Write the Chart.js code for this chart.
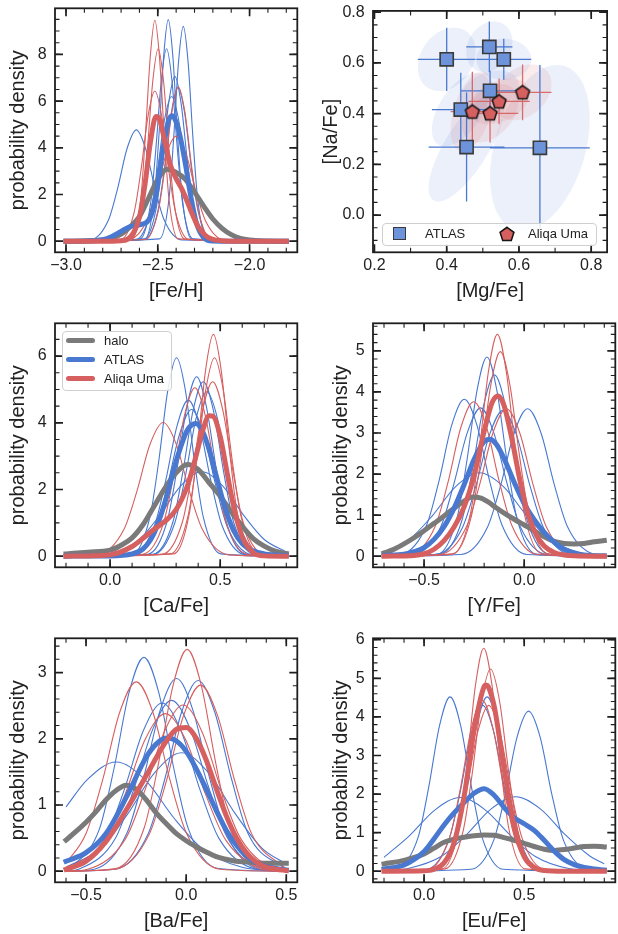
<!DOCTYPE html>
<html><head><meta charset="utf-8">
<script src="https://cdn.jsdelivr.net/npm/chart.js@4.4.1/dist/chart.umd.min.js"></script>
<style>
html,body{margin:0;padding:0;background:#fff;}
#wrap{position:relative;width:618px;height:934px;overflow:hidden;font-family:'Liberation Sans',Arial,Helvetica,sans-serif;color:#222;}
canvas{position:absolute;}
.lg{position:absolute;box-sizing:border-box;border:1px solid #cfcfcf;border-radius:4px;background:rgba(255,255,255,0.85);}
.lt{position:absolute;font-size:13px;line-height:13px;white-space:nowrap;color:#222;}
.ll{position:absolute;height:5px;border-radius:3px;}
</style></head><body>
<div id="wrap"></div>
<script>
// ---------------- DATA ----------------
// [Fe/H]
const FEH_HALO = [[-3.0,0],[-2.9,0.005],[-2.8,0.05],[-2.75,0.14],[-2.7,0.3],[-2.65,0.62],[-2.6,1.05],[-2.55,1.85],[-2.5,2.65],[-2.45,3.08],[-2.4,2.95],[-2.35,2.65],[-2.3,2.1],[-2.25,1.5],[-2.2,0.95],[-2.15,0.55],[-2.1,0.28],[-2.05,0.12],[-2.0,0.05],[-1.9,0.01],[-1.8,0]];
const FEH_ATLAS = [[-3.0,0],[-2.9,0.01],[-2.85,0.03],[-2.8,0.06],[-2.75,0.2],[-2.7,0.42],[-2.65,0.63],[-2.6,0.7],[-2.55,0.9],[-2.525,1.4],[-2.5,2.4],[-2.47,4.04],[-2.44,5.2],[-2.42,5.37],[-2.4,5.1],[-2.38,4.55],[-2.35,3.33],[-2.32,1.91],[-2.29,0.79],[-2.25,0.16],[-2.2,0.01],[-2.1,0],[-1.8,0]];
const FEH_ALIQA = [[-3.0,0],[-2.75,0],[-2.7,0.02],[-2.65,0.17],[-2.6,1.03],[-2.57,2.42],[-2.54,4.25],[-2.51,5.34],[-2.49,5.21],[-2.46,4.21],[-2.43,3.23],[-2.4,2.68],[-2.37,2.25],[-2.34,1.71],[-2.31,1.12],[-2.28,0.62],[-2.24,0.24],[-2.2,0.08],[-2.15,0.02],[-2.1,0],[-1.8,0]];
const FEH_ATLAS_STARS = [
 [[-3.0,0],[-2.868,0.05],[-2.767,0.94],[-2.717,2.32],[-2.667,3.98],[-2.617,4.77],[-2.567,3.98],[-2.517,2.32],[-2.467,0.94],[-2.366,0.05],[-1.8,0]],
 [[-3.0,0],[-2.569,0.10],[-2.519,1.88],[-2.493,4.62],[-2.468,7.92],[-2.443,9.49],[-2.418,7.92],[-2.393,4.62],[-2.367,1.88],[-2.317,0.10],[-1.8,0]],
 [[-3.0,0],[-2.491,0.10],[-2.439,1.82],[-2.413,4.48],[-2.387,7.68],[-2.361,9.2],[-2.335,7.68],[-2.309,4.48],[-2.283,1.82],[-2.231,0.10],[-1.8,0]],
 [[-3.0,0],[-2.597,0.09],[-2.539,1.63],[-2.510,4.01],[-2.481,6.88],[-2.452,8.24],[-2.423,6.88],[-2.394,4.01],[-2.365,1.63],[-2.307,0.09],[-1.8,0]],
 [[-3.0,0],[-2.577,0.08],[-2.509,1.40],[-2.475,3.44],[-2.441,5.90],[-2.407,7.06],[-2.373,5.90],[-2.339,3.44],[-2.305,1.40],[-2.237,0.08],[-1.8,0]],
 [[-3.0,0],[-2.618,0.07],[-2.541,1.23],[-2.502,3.02],[-2.464,5.18],[-2.425,6.2],[-2.386,5.18],[-2.348,3.02],[-2.309,1.23],[-2.232,0.07],[-1.8,0]],
 [[-3.0,0],[-2.571,0.07],[-2.499,1.31],[-2.462,3.21],[-2.426,5.51],[-2.39,6.6],[-2.354,5.51],[-2.318,3.21],[-2.281,1.31],[-2.209,0.07],[-1.8,0]]
];
const FEH_ALIQA_STARS = [
 [[-3.0,0],[-2.643,0.10],[-2.592,1.87],[-2.567,4.61],[-2.541,7.90],[-2.516,9.46],[-2.491,7.90],[-2.465,4.61],[-2.440,1.87],[-2.389,0.10],[-1.8,0]],
 [[-3.0,0],[-2.643,0.09],[-2.585,1.63],[-2.556,4.01],[-2.527,6.88],[-2.498,8.24],[-2.469,6.88],[-2.440,4.01],[-2.411,1.63],[-2.353,0.09],[-1.8,0]],
 [[-3.0,0],[-2.702,0.07],[-2.628,1.27],[-2.590,3.13],[-2.553,5.37],[-2.516,6.43],[-2.479,5.37],[-2.442,3.13],[-2.404,1.27],[-2.330,0.07],[-1.8,0]],
 [[-3.0,0],[-2.569,0.07],[-2.497,1.31],[-2.460,3.21],[-2.424,5.51],[-2.388,6.6],[-2.352,5.51],[-2.316,3.21],[-2.279,1.31],[-2.207,0.07],[-1.8,0]],
 [[-3.0,0],[-2.666,0.05],[-2.559,0.89],[-2.506,2.19],[-2.453,3.76],[-2.40,4.5],[-2.347,3.76],[-2.294,2.19],[-2.241,0.89],[-2.134,0.05],[-1.8,0]]
];
const FEH_XTICKS = [-3.0,-2.5,-2.0];
const FEH_YTICKS = [0,2,4,6,8];

// [Mg/Fe] vs [Na/Fe]
const ATLAS_MGFE = [0.400,0.518,0.558,0.520,0.439,0.455,0.658];
const ATLAS_NAFE = [0.614,0.663,0.614,0.490,0.416,0.268,0.265];
const ATLAS_MGFE_ERR = [0.080,0.064,0.076,0.079,0.080,0.105,0.138];
const ATLAS_NAFE_ERR = [0.125,0.100,0.081,0.080,0.145,0.215,0.327];
const ATLAS_RHO = [0.25,0.2,0.0,0.3,0.55,0.75,0.35];
const ALIQA_MGFE = [0.610,0.545,0.471,0.520];
const ALIQA_NAFE = [0.484,0.448,0.408,0.401];
const ALIQA_MGFE_ERR = [0.080,0.085,0.060,0.078];
const ALIQA_NAFE_ERR = [0.110,0.090,0.157,0.115];
const ALIQA_RHO = [0.3,0.35,0.45,0.4];
const MG_XTICKS = [0.2,0.4,0.6,0.8];
const NA_YTICKS = [0.0,0.2,0.4,0.6,0.8];

// [Ca/Fe]
const CA_HALO = [[-0.2,0.07],[-0.1,0.12],[0,0.18],[0.05,0.33],[0.1,0.55],[0.15,0.95],[0.2,1.5],[0.25,2.05],[0.3,2.5],[0.35,2.75],[0.4,2.6],[0.45,2.2],[0.5,1.8],[0.55,1.33],[0.6,0.9],[0.65,0.53],[0.7,0.3],[0.75,0.15],[0.8,0.08]];
const CA_ATLAS = [[-0.2,0],[-0.1,0.01],[0,0.01],[0.1,0.07],[0.15,0.22],[0.2,0.69],[0.25,1.63],[0.3,2.85],[0.35,3.77],[0.39,3.98],[0.42,3.74],[0.45,3.19],[0.48,2.46],[0.52,1.49],[0.56,0.78],[0.6,0.38],[0.65,0.16],[0.7,0.07],[0.75,0.04],[0.8,0.02]];
const CA_ALIQA = [[-0.2,0],[-0.1,0.01],[0,0.04],[0.1,0.29],[0.15,0.54],[0.2,0.81],[0.25,1.05],[0.3,1.4],[0.35,2.09],[0.39,3.0],[0.42,3.76],[0.45,4.21],[0.47,4.18],[0.5,3.59],[0.53,2.55],[0.56,1.52],[0.6,0.58],[0.65,0.11],[0.7,0.01],[0.8,0]];
const CA_ATLAS_STARS = [
 [[-0.2,0],[0.101,0.07],[0.181,1.18],[0.222,2.90],[0.262,4.97],[0.302,5.95],[0.342,4.97],[0.382,2.90],[0.423,1.18],[0.503,0.07],[0.8,0]],
 [[-0.2,0],[0.171,0.06],[0.260,1.07],[0.304,2.62],[0.349,4.49],[0.393,5.38],[0.437,4.49],[0.482,2.62],[0.526,1.07],[0.615,0.06],[0.8,0]],
 [[-0.2,0],[0.194,0.06],[0.286,1.04],[0.331,2.55],[0.377,4.37],[0.423,5.23],[0.469,4.37],[0.515,2.55],[0.560,1.04],[0.652,0.06],[0.8,0]],
 [[-0.2,0],[0.099,0.05],[0.202,0.93],[0.253,2.28],[0.304,3.91],[0.355,4.68],[0.406,3.91],[0.457,2.28],[0.508,0.93],[0.611,0.05],[0.8,0]],
 [[-0.2,0],[0.005,0.09],[0.132,0.50],[0.226,1.23],[0.321,2.11],[0.416,2.53],[0.511,2.11],[0.606,1.23],[0.700,0.50],[0.8,0.13]],
 [[-0.2,0],[0.196,0.05],[0.293,0.98],[0.342,2.40],[0.390,4.12],[0.439,4.93],[0.488,4.12],[0.536,2.40],[0.585,0.98],[0.682,0.05],[0.8,0]],
 [[-0.2,0],[0.098,0.05],[0.207,0.87],[0.261,2.14],[0.316,3.67],[0.370,4.4],[0.424,3.67],[0.479,2.14],[0.533,0.87],[0.642,0.05],[0.8,0]]
];
const CA_ALIQA_STARS = [
 [[-0.2,0],[0.289,0.07],[0.361,1.32],[0.397,3.24],[0.433,5.55],[0.469,6.65],[0.505,5.55],[0.541,3.24],[0.577,1.32],[0.649,0.07],[0.8,0]],
 [[-0.2,0],[0.273,0.07],[0.353,1.18],[0.394,2.90],[0.434,4.97],[0.474,5.95],[0.514,4.97],[0.554,2.90],[0.595,1.18],[0.675,0.07],[0.8,0]],
 [[-0.2,0],[0.237,0.06],[0.329,1.04],[0.374,2.55],[0.420,4.37],[0.466,5.23],[0.512,4.37],[0.558,2.55],[0.603,1.04],[0.695,0.06],[0.8,0]],
 [[-0.2,0],[0.148,0.06],[0.243,1.0],[0.290,2.46],[0.338,4.22],[0.385,5.05],[0.432,4.22],[0.480,2.46],[0.527,1.0],[0.622,0.06],[0.8,0]],
 [[-0.2,0],[-0.058,0.04],[0.062,0.79],[0.122,1.95],[0.181,3.35],[0.241,4.01],[0.301,3.35],[0.360,1.95],[0.420,0.79],[0.540,0.04],[0.8,0]]
];
const CA_XTICKS = [0.0,0.5];
const CA_YTICKS = [0,2,4,6];

// [Y/Fe]
const Y_HALO = [[-0.7,0.08],[-0.65,0.17],[-0.6,0.3],[-0.55,0.45],[-0.5,0.62],[-0.45,0.8],[-0.4,0.98],[-0.35,1.17],[-0.3,1.34],[-0.26,1.44],[-0.22,1.42],[-0.18,1.32],[-0.14,1.18],[-0.1,1.05],[-0.05,0.9],[0,0.76],[0.05,0.62],[0.1,0.47],[0.15,0.36],[0.2,0.31],[0.25,0.3],[0.3,0.31],[0.35,0.35],[0.4,0.38]];
const Y_ATLAS = [[-0.7,0.02],[-0.6,0.05],[-0.55,0.11],[-0.5,0.21],[-0.45,0.41],[-0.4,0.72],[-0.35,1.17],[-0.3,1.74],[-0.25,2.36],[-0.2,2.79],[-0.17,2.85],[-0.14,2.73],[-0.1,2.37],[-0.05,1.8],[0,1.28],[0.05,0.89],[0.1,0.58],[0.15,0.34],[0.2,0.17],[0.25,0.08],[0.3,0.03],[0.4,0.01]];
const Y_ALIQA = [[-0.7,0],[-0.55,0.02],[-0.5,0.06],[-0.45,0.17],[-0.4,0.38],[-0.35,0.71],[-0.3,1.2],[-0.25,1.97],[-0.2,3.04],[-0.16,3.74],[-0.13,3.9],[-0.1,3.66],[-0.06,2.82],[-0.02,1.82],[0.02,1.02],[0.06,0.52],[0.1,0.25],[0.15,0.09],[0.2,0.03],[0.25,0.01],[0.4,0]];
const Y_ATLAS_STARS = [
 [[-0.7,0],[-0.612,0.04],[-0.487,0.76],[-0.424,1.86],[-0.362,3.19],[-0.299,3.82],[-0.236,3.19],[-0.174,1.86],[-0.111,0.76],[0.014,0.04],[0.4,0]],
 [[-0.7,0],[-0.433,0.05],[-0.334,0.96],[-0.285,2.36],[-0.235,4.05],[-0.186,4.85],[-0.137,4.05],[-0.087,2.36],[-0.038,0.96],[0.061,0.05],[0.4,0]],
 [[-0.7,0],[-0.420,0.05],[-0.311,0.87],[-0.257,2.15],[-0.202,3.68],[-0.148,4.41],[-0.094,3.68],[-0.039,2.15],[0.015,0.87],[0.124,0.05],[0.4,0]],
 [[-0.7,0],[-0.550,0.04],[-0.417,0.71],[-0.351,1.76],[-0.284,3.01],[-0.218,3.61],[-0.152,3.01],[-0.085,1.76],[-0.019,0.71],[0.114,0.04],[0.4,0]],
 [[-0.7,0],[-0.316,0.04],[-0.183,0.71],[-0.116,1.75],[-0.050,3.0],[0.017,3.59],[0.084,3.0],[0.150,1.75],[0.217,0.71],[0.350,0.04],[0.4,0.01]],
 [[-0.7,0.11],[-0.576,0.40],[-0.458,0.99],[-0.341,1.70],[-0.223,2.03],[-0.105,1.70],[0.012,0.99],[0.130,0.40],[0.287,0.07],[0.4,0.01]],
 [[-0.7,0],[-0.442,0.04],[-0.308,0.70],[-0.240,1.73],[-0.173,2.96],[-0.106,3.55],[-0.039,2.96],[0.028,1.73],[0.096,0.70],[0.230,0.04],[0.4,0]]
];
const Y_ALIQA_STARS = [
 [[-0.7,0],[-0.356,0.06],[-0.267,1.07],[-0.223,2.63],[-0.178,4.51],[-0.134,5.40],[-0.090,4.51],[-0.045,2.63],[-0.001,1.07],[0.088,0.06],[0.4,0]],
 [[-0.7,0],[-0.359,0.05],[-0.263,0.99],[-0.215,2.43],[-0.167,4.16],[-0.119,4.98],[-0.071,4.16],[-0.023,2.43],[0.025,0.99],[0.121,0.05],[0.4,0]],
 [[-0.7,0],[-0.570,0.04],[-0.443,0.74],[-0.379,1.83],[-0.316,3.14],[-0.252,3.76],[-0.188,3.14],[-0.125,1.83],[-0.061,0.74],[0.066,0.04],[0.4,0]],
 [[-0.7,0],[-0.422,0.04],[-0.289,0.71],[-0.222,1.75],[-0.156,3.0],[-0.089,3.59],[-0.022,3.0],[0.044,1.75],[0.111,0.71],[0.244,0.04],[0.4,0]]
];
const Y_XTICKS = [-0.5,0.0];
const Y_YTICKS = [0,1,2,3,4,5];

// [Ba/Fe]
const BA_HALO = [[-0.6,0.47],[-0.55,0.6],[-0.5,0.74],[-0.45,0.9],[-0.4,1.08],[-0.35,1.22],[-0.3,1.3],[-0.25,1.24],[-0.2,1.08],[-0.15,0.88],[-0.1,0.72],[-0.05,0.57],[0,0.46],[0.05,0.37],[0.1,0.29],[0.15,0.22],[0.2,0.18],[0.25,0.15],[0.3,0.14],[0.35,0.13],[0.4,0.12],[0.5,0.12]];
const BA_ATLAS = [[-0.6,0.15],[-0.5,0.28],[-0.4,0.57],[-0.3,1.11],[-0.2,1.72],[-0.15,1.92],[-0.1,2.01],[-0.05,1.97],[0,1.81],[0.05,1.55],[0.1,1.24],[0.15,0.92],[0.2,0.62],[0.25,0.4],[0.3,0.23],[0.35,0.13],[0.4,0.07],[0.45,0.04],[0.5,0.02]];
const BA_ALIQA = [[-0.6,0.03],[-0.5,0.15],[-0.4,0.45],[-0.3,0.92],[-0.2,1.44],[-0.15,1.71],[-0.1,1.96],[-0.05,2.14],[0,2.17],[0.05,2.01],[0.1,1.68],[0.15,1.25],[0.2,0.84],[0.25,0.51],[0.3,0.28],[0.35,0.14],[0.4,0.06],[0.45,0.03],[0.5,0.01]];
const BA_ATLAS_STARS = [
 [[-0.6,0],[-0.582,0.04],[-0.433,0.64],[-0.359,1.57],[-0.285,2.70],[-0.211,3.23],[-0.137,2.70],[-0.063,1.57],[0.011,0.64],[0.160,0.04],[0.5,0]],
 [[-0.6,0],[-0.459,0.03],[-0.295,0.58],[-0.212,1.42],[-0.130,2.43],[-0.048,2.91],[0.034,2.43],[0.116,1.42],[0.199,0.58],[0.363,0.03],[0.5,0]],
 [[-0.6,0],[-0.356,0.03],[-0.189,0.57],[-0.106,1.40],[-0.023,2.40],[0.060,2.88],[0.143,2.40],[0.226,1.40],[0.309,0.57],[0.5,0.02]],
 [[-0.6,0.02],[-0.403,0.50],[-0.308,1.24],[-0.214,2.12],[-0.120,2.54],[-0.026,2.12],[0.068,1.24],[0.163,0.50],[0.351,0.03],[0.5,0]],
 [[-0.6,0],[-0.537,0.03],[-0.351,0.51],[-0.259,1.26],[-0.166,2.15],[-0.073,2.58],[0.020,2.15],[0.113,1.26],[0.205,0.51],[0.391,0.03],[0.5,0]],
 [[-0.6,0.97],[-0.495,1.38],[-0.35,1.65],[-0.205,1.38],[-0.060,0.80],[0.085,0.33],[0.279,0.06],[0.5,0]],
 [[-0.6,0.06],[-0.424,0.35],[-0.291,0.87],[-0.157,1.49],[-0.023,1.79],[0.111,1.49],[0.245,0.87],[0.378,0.35],[0.5,0.11]]
];
const BA_ALIQA_STARS = [
 [[-0.6,0],[-0.352,0.04],[-0.209,0.66],[-0.138,1.63],[-0.066,2.80],[0.005,3.35],[0.076,2.80],[0.148,1.63],[0.219,0.66],[0.362,0.04],[0.5,0]],
 [[-0.6,0.12],[-0.5,0.57],[-0.416,1.39],[-0.333,2.39],[-0.249,2.86],[-0.165,2.39],[-0.082,1.39],[0.002,0.57],[0.170,0.03],[0.5,0]],
 [[-0.6,0],[-0.354,0.03],[-0.184,0.56],[-0.098,1.37],[-0.013,2.35],[0.072,2.81],[0.157,2.35],[0.242,1.37],[0.328,0.56],[0.5,0.03]],
 [[-0.6,0],[-0.492,0.03],[-0.301,0.50],[-0.206,1.22],[-0.110,2.10],[-0.015,2.51],[0.080,2.10],[0.176,1.22],[0.271,0.50],[0.462,0.03],[0.5,0.02]],
 [[-0.6,0.03],[-0.406,0.47],[-0.305,1.16],[-0.205,1.99],[-0.104,2.38],[-0.003,1.99],[0.097,1.16],[0.198,0.47],[0.399,0.03],[0.5,0]]
];
const BA_XTICKS = [-0.5,0.0,0.5];
const BA_YTICKS = [0,1,2,3];

// [Eu/Fe]
const EU_HALO = [[-0.2,0.19],[-0.1,0.28],[0,0.45],[0.05,0.6],[0.1,0.75],[0.15,0.83],[0.2,0.88],[0.25,0.92],[0.3,0.94],[0.35,0.93],[0.4,0.87],[0.45,0.8],[0.5,0.72],[0.55,0.64],[0.6,0.57],[0.65,0.54],[0.7,0.56],[0.75,0.6],[0.8,0.64],[0.85,0.65],[0.9,0.63]];
const EU_ATLAS = [[-0.2,0.06],[-0.1,0.16],[0,0.51],[0.05,0.84],[0.1,1.2],[0.15,1.51],[0.2,1.78],[0.25,2.02],[0.3,2.14],[0.35,1.97],[0.4,1.65],[0.45,1.39],[0.5,1.23],[0.55,1.06],[0.6,0.8],[0.65,0.52],[0.7,0.3],[0.75,0.17],[0.8,0.1],[0.85,0.06],[0.9,0.03]];
const EU_ALIQA = [[-0.2,0],[0,0.01],[0.05,0.05],[0.1,0.22],[0.15,0.74],[0.2,1.94],[0.25,3.66],[0.3,4.79],[0.31,4.83],[0.32,4.79],[0.35,4.28],[0.4,2.65],[0.45,1.17],[0.5,0.38],[0.55,0.1],[0.6,0.02],[0.7,0],[0.9,0]];
const EU_ATLAS_STARS = [
 [[-0.2,0],[-0.135,0.05],[-0.029,0.89],[0.024,2.20],[0.077,3.77],[0.130,4.52],[0.183,3.77],[0.236,2.20],[0.289,0.89],[0.395,0.05],[0.9,0]],
 [[-0.2,0],[0.234,0.05],[0.349,0.82],[0.407,2.02],[0.464,3.47],[0.522,4.15],[0.580,3.47],[0.637,2.02],[0.695,0.82],[0.810,0.05],[0.9,0]],
 [[-0.2,0],[0.015,0.05],[0.126,0.85],[0.182,2.09],[0.237,3.59],[0.293,4.30],[0.349,3.59],[0.404,2.09],[0.460,0.85],[0.571,0.05],[0.9,0]],
 [[-0.2,0.36],[-0.071,0.93],[0.055,1.59],[0.180,1.91],[0.305,1.59],[0.431,0.93],[0.556,0.38],[0.723,0.07],[0.9,0.01]],
 [[-0.2,0.01],[-0.080,0.07],[0.085,0.38],[0.210,0.94],[0.334,1.61],[0.458,1.93],[0.582,1.61],[0.706,0.94],[0.831,0.38],[0.9,0.19]],
 [[-0.2,0],[0.050,0.05],[0.156,0.89],[0.209,2.20],[0.262,3.77],[0.315,4.52],[0.368,3.77],[0.421,2.20],[0.474,0.89],[0.580,0.05],[0.9,0]]
];
const EU_ALIQA_STARS = [
 [[-0.2,0],[0.091,0.06],[0.174,1.14],[0.215,2.81],[0.257,4.83],[0.298,5.78],[0.339,4.83],[0.381,2.81],[0.422,1.14],[0.505,0.06],[0.9,0]],
 [[-0.2,0],[0.104,0.06],[0.195,1.04],[0.241,2.55],[0.286,4.38],[0.332,5.24],[0.378,4.38],[0.423,2.55],[0.469,1.04],[0.560,0.06],[0.9,0]],
 [[-0.2,0],[0.020,0.05],[0.128,0.88],[0.182,2.16],[0.236,3.70],[0.290,4.43],[0.344,3.70],[0.398,2.16],[0.452,0.88],[0.560,0.05],[0.9,0]],
 [[-0.2,0],[0.045,0.05],[0.156,0.85],[0.212,2.09],[0.267,3.59],[0.323,4.30],[0.379,3.59],[0.434,2.09],[0.490,0.85],[0.601,0.05],[0.9,0]]
];
const EU_XTICKS = [0.0,0.5];
const EU_YTICKS = [0,1,2,3,4,5,6];

// ---------------- STYLE / LAYOUT ----------------
const FONT = "'Liberation Sans', Arial, Helvetica, sans-serif";
const BLUE = '#4878d0', RED = '#d65f5f', GRAY = '#7a7a7a', INK = '#1e1e1e';
const COLS = {L:{left:0,width:305,fl:55,fr:297.3,ytp:6.5}, R:{left:310,width:308,fl:373,fr:615.3,ytp:19}};
const ROWS = [{top:0,height:315,ft:8.3,fb:252.3,xtp:11.3},{top:315,height:315,ft:323.3,fb:567.3,xtp:11.3},{top:630,height:304,ft:638.3,fb:882.3,xtp:0.3}];
const wrap = document.getElementById('wrap');

function steps(min, max, step){
  const out=[]; const k0=Math.ceil(min/step-1e-9), k1=Math.floor(max/step+1e-9);
  for(let k=k0;k<=k1;k++) out.push(+(k*step).toFixed(6));
  return out;
}
function fmt(v, dec){ const s=Math.abs(v).toFixed(dec); return (v < -1e-9 ? '\u2212' : '') + s; }

const frameTicks = {
  id:'frameTicks',
  afterDatasetsDraw(chart, args, o){
    const {ctx, chartArea:a} = chart; const xs=chart.scales.x, ys=chart.scales.y;
    ctx.save(); ctx.strokeStyle=INK; ctx.lineCap='butt';
    const seg=(vals, sc, horiz, len, lw)=>{
      ctx.lineWidth=lw; ctx.beginPath();
      vals.forEach(v=>{
        const p=sc.getPixelForValue(v);
        if(horiz){ if(p<a.left+1||p>a.right-1) return;
          ctx.moveTo(p,a.bottom); ctx.lineTo(p,a.bottom-len); ctx.moveTo(p,a.top); ctx.lineTo(p,a.top+len);
        } else { if(p<a.top+1||p>a.bottom-1) return;
          ctx.moveTo(a.left,p); ctx.lineTo(a.left+len,p); ctx.moveTo(a.right,p); ctx.lineTo(a.right-len,p);
        }
      });
      ctx.stroke();
    };
    seg(steps(xs.min,xs.max,o.xminor), xs, true, 4.5, 1.1);
    seg(steps(ys.min,ys.max,o.yminor), ys, false, 4.5, 1.1);
    seg(o.xmajor, xs, true, 8, 1.7);
    seg(o.ymajor, ys, false, 8, 1.7);
    ctx.lineWidth=1.8; ctx.strokeRect(a.left,a.top,a.right-a.left,a.bottom-a.top);
    ctx.restore();
  }
};

const ellipses = {
  id:'ellipses',
  beforeDatasetsDraw(chart, args, o){
    if(!o || !o.groups) return;
    const {ctx, chartArea:a} = chart; const xs=chart.scales.x, ys=chart.scales.y;
    ctx.save(); ctx.beginPath(); ctx.rect(a.left,a.top,a.right-a.left,a.bottom-a.top); ctx.clip();
    o.groups.forEach(g=>{
      ctx.fillStyle=g.color;
      g.x.forEach((mx,i)=>{
        const r=g.rho[i], q=Math.sqrt(1-r*r);
        ctx.beginPath();
        for(let k=0;k<=90;k++){
          const t=k/90*2*Math.PI;
          const px=xs.getPixelForValue(mx+g.sx[i]*Math.cos(t));
          const py=ys.getPixelForValue(g.y[i]+g.sy[i]*(r*Math.cos(t)+q*Math.sin(t)));
          if(k) ctx.lineTo(px,py); else ctx.moveTo(px,py);
        }
        ctx.closePath(); ctx.fill();
      });
    });
    ctx.restore();
  }
};

function line(data, color, width, order){
  return {type:'line', data, borderColor:color, borderWidth:width, pointRadius:0, fill:false,
    cubicInterpolationMode:'monotone', borderCapStyle: width>2?'square':'butt', borderJoinStyle:'round', order};
}
function densitySets(halo, atlas, aliqa, atlasStars, aliqaStars){
  const ds=[];
  atlasStars.forEach(d=>ds.push(line(d, BLUE, 1.1, 4)));
  aliqaStars.forEach(d=>ds.push(line(d, RED, 1.1, 3)));
  ds.push(line(halo, GRAY, 5, 2));
  ds.push(line(atlas, BLUE, 5, 1));
  ds.push(line(aliqa, RED, 5, 0));
  return ds;
}

function panel(colKey, rowIdx, s){
  const c=COLS[colKey], r=ROWS[rowIdx];
  const cv=document.createElement('canvas');
  cv.width=c.width; cv.height=r.height;
  cv.style.left=c.left+'px'; cv.style.top=r.top+'px';
  cv.style.width=c.width+'px'; cv.style.height=r.height+'px';
  wrap.appendChild(cv);
  const ytp = s.ytp!==undefined ? s.ytp : c.ytp;
  return new Chart(cv.getContext('2d'), {
    type:'line',
    data:{datasets:s.datasets},
    options:{
      responsive:false, animation:false, devicePixelRatio:1, events:[],
      layout:{padding:{left:0, top:r.ft-r.top, right:c.left+c.width-c.fr, bottom:0}},
      plugins:{legend:{display:false}, tooltip:{enabled:false},
        frameTicks:{xmajor:s.xt, ymajor:s.yt, xminor:s.xminor, yminor:s.yminor},
        ellipses: s.ellipses || {}},
      scales:{
        x:{type:'linear', position:'bottom', min:s.xmin, max:s.xmax,
          afterBuildTicks:(sc)=>{ sc.ticks=s.xt.map(v=>({value:v})); },
          afterFit:(sc)=>{ sc.height=r.top+r.height-r.fb; sc.paddingLeft=0; sc.paddingRight=0; },
          grid:{display:false, drawTicks:false}, border:{display:false},
          ticks:{font:{family:FONT,size:16}, color:'#222', padding:3.6, maxRotation:0, minRotation:0, autoSkip:false,
            callback:(v)=>fmt(v, s.xdec)},
          title:{display:true, text:s.xlabel, font:{family:FONT,size:20}, color:'#222', padding:{top:0,bottom:r.xtp}}},
        y:{type:'linear', position:'left', min:s.ymin, max:s.ymax,
          afterBuildTicks:(sc)=>{ sc.ticks=s.yt.map(v=>({value:v})); },
          afterFit:(sc)=>{ sc.width=c.fl-c.left; sc.paddingTop=0; sc.paddingBottom=0; },
          grid:{display:false, drawTicks:false}, border:{display:false},
          ticks:{font:{family:FONT,size:16}, color:'#222', padding:8.3, autoSkip:false,
            callback:(v)=>fmt(v, s.ydec)},
          title:{display:true, text:s.ylabel, font:{family:FONT,size:20}, color:'#222', padding:{top:ytp,bottom:0}}}
      }
    },
    plugins:[ellipses, frameTicks]
  });
}

// ---------- Panel 1: [Fe/H]
panel('L',0,{xmin:-3.06,xmax:-1.74,ymin:-0.475,ymax:9.975,xt:FEH_XTICKS,yt:FEH_YTICKS,xminor:0.1,yminor:0.5,xdec:1,ydec:0,
  xlabel:'[Fe/H]', ylabel:'probability density',
  datasets:densitySets(FEH_HALO,FEH_ATLAS,FEH_ALIQA,FEH_ATLAS_STARS,FEH_ALIQA_STARS)});

// ---------- Panel 2: [Mg/Fe] vs [Na/Fe]
function errBars(xs, ys, xe, ye){
  const d=[];
  xs.forEach((x,i)=>{ d.push([x-xe[i],ys[i]],[x+xe[i],ys[i]],[x,null],[x,ys[i]-ye[i]],[x,ys[i]+ye[i]],[x,null]); });
  return d;
}
const pent=document.createElement('canvas'); pent.width=18; pent.height=18;
(function(){ const g=pent.getContext('2d'); g.beginPath();
  for(let k=0;k<5;k++){ const t=-Math.PI/2+k*2*Math.PI/5; const px=9+7.3*Math.cos(t), py=9.6+7.3*Math.sin(t); if(k) g.lineTo(px,py); else g.moveTo(px,py);} 
  g.closePath(); g.fillStyle=RED; g.fill(); g.lineWidth=1.5; g.strokeStyle='#151515'; g.stroke(); })();
panel('R',0,{xmin:0.196,xmax:0.844,ymin:-0.147,ymax:0.805,xt:MG_XTICKS,yt:NA_YTICKS,xminor:0.1,yminor:0.05,xdec:1,ydec:1,
  xlabel:'[Mg/Fe]', ylabel:'[Na/Fe]', ytp:9,
  ellipses:{groups:[
    {x:ATLAS_MGFE,y:ATLAS_NAFE,sx:ATLAS_MGFE_ERR,sy:ATLAS_NAFE_ERR,rho:ATLAS_RHO,color:'rgba(72,120,208,0.11)'},
    {x:ALIQA_MGFE,y:ALIQA_NAFE,sx:ALIQA_MGFE_ERR,sy:ALIQA_NAFE_ERR,rho:ALIQA_RHO,color:'rgba(214,95,95,0.12)'}]},
  datasets:[
    {type:'line', data:errBars(ATLAS_MGFE,ATLAS_NAFE,ATLAS_MGFE_ERR,ATLAS_NAFE_ERR), borderColor:BLUE, borderWidth:1.3, pointRadius:0, spanGaps:false, order:3},
    {type:'line', data:errBars(ALIQA_MGFE,ALIQA_NAFE,ALIQA_MGFE_ERR,ALIQA_NAFE_ERR), borderColor:'rgba(214,95,95,0.9)', borderWidth:1.3, pointRadius:0, spanGaps:false, order:2},
    {type:'line', data:ATLAS_MGFE.map((m,i)=>[m,ATLAS_NAFE[i]]), showLine:false, pointStyle:'rect', pointRadius:9.3, pointBackgroundColor:'#6d93db', pointBorderColor:'#3a3a3a', pointBorderWidth:1.6, order:1},
    {type:'line', data:ALIQA_MGFE.map((m,i)=>[m,ALIQA_NAFE[i]]), showLine:false, pointStyle:pent, pointRadius:8, order:0}
  ]});

// ---------- Panel 3: [Ca/Fe]
panel('L',1,{xmin:-0.25,xmax:0.85,ymin:-0.3325,ymax:6.9825,xt:CA_XTICKS,yt:CA_YTICKS,xminor:0.1,yminor:0.5,xdec:1,ydec:0,
  xlabel:'[Ca/Fe]', ylabel:'probability density',
  datasets:densitySets(CA_HALO,CA_ATLAS,CA_ALIQA,CA_ATLAS_STARS,CA_ALIQA_STARS)});

// ---------- Panel 4: [Y/Fe]
panel('R',1,{xmin:-0.755,xmax:0.455,ymin:-0.27,ymax:5.67,xt:Y_XTICKS,yt:Y_YTICKS,xminor:0.1,yminor:0.2,xdec:1,ydec:0,
  xlabel:'[Y/Fe]', ylabel:'probability density',
  datasets:densitySets(Y_HALO,Y_ATLAS,Y_ALIQA,Y_ATLAS_STARS,Y_ALIQA_STARS)});

// ---------- Panel 5: [Ba/Fe]
panel('L',2,{xmin:-0.655,xmax:0.555,ymin:-0.1675,ymax:3.5175,xt:BA_XTICKS,yt:BA_YTICKS,xminor:0.1,yminor:0.2,xdec:1,ydec:0,
  xlabel:'[Ba/Fe]', ylabel:'probability density',
  datasets:densitySets(BA_HALO,BA_ATLAS,BA_ALIQA,BA_ATLAS_STARS,BA_ALIQA_STARS)});

// ---------- Panel 6: [Eu/Fe]
panel('R',2,{xmin:-0.255,xmax:0.955,ymin:-0.2875,ymax:6.0375,xt:EU_XTICKS,yt:EU_YTICKS,xminor:0.1,yminor:0.2,xdec:1,ydec:0,
  xlabel:'[Eu/Fe]', ylabel:'probability density',
  datasets:densitySets(EU_HALO,EU_ATLAS,EU_ALIQA,EU_ATLAS_STARS,EU_ALIQA_STARS)});

// ---------- Legends (HTML)
(function(){
  const lg=document.createElement('div'); lg.className='lg';
  Object.assign(lg.style,{left:'62px',top:'330.5px',width:'110px',height:'60px'});
  wrap.appendChild(lg);
  const rows=[['halo',GRAY],['ATLAS',BLUE],['Aliqa Uma',RED]];
  rows.forEach((r,i)=>{
    const yc=340.7+i*19;
    const l=document.createElement('div'); l.className='ll';
    Object.assign(l.style,{left:'66px',top:(yc-2.5)+'px',width:'29px',background:r[1]});
    wrap.appendChild(l);
    const t=document.createElement('div'); t.className='lt'; t.textContent=r[0];
    Object.assign(t.style,{left:'104px',top:(yc-7)+'px'});
    wrap.appendChild(t);
  });
  const lg2=document.createElement('div'); lg2.className='lg';
  Object.assign(lg2.style,{left:'381.7px',top:'222.5px',width:'215px',height:'23px'});
  wrap.appendChild(lg2);
  const sq=document.createElement('div');
  Object.assign(sq.style,{position:'absolute',left:'393.3px',top:'227.3px',width:'13px',height:'13px',boxSizing:'border-box',background:'#6d93db',border:'1.6px solid #3a3a3a'});
  wrap.appendChild(sq);
  const t1=document.createElement('div'); t1.className='lt'; t1.textContent='ATLAS';
  Object.assign(t1.style,{left:'425px',top:'227px'}); wrap.appendChild(t1);
  const pc=document.createElement('canvas'); pc.width=18; pc.height=18;
  Object.assign(pc.style,{left:'497.7px',top:'224.5px'});
  pc.getContext('2d').drawImage(pent,0,0);
  wrap.appendChild(pc);
  const t2=document.createElement('div'); t2.className='lt'; t2.textContent='Aliqa Uma';
  Object.assign(t2.style,{left:'528px',top:'227px'}); wrap.appendChild(t2);
})();
</script>
</body></html>
